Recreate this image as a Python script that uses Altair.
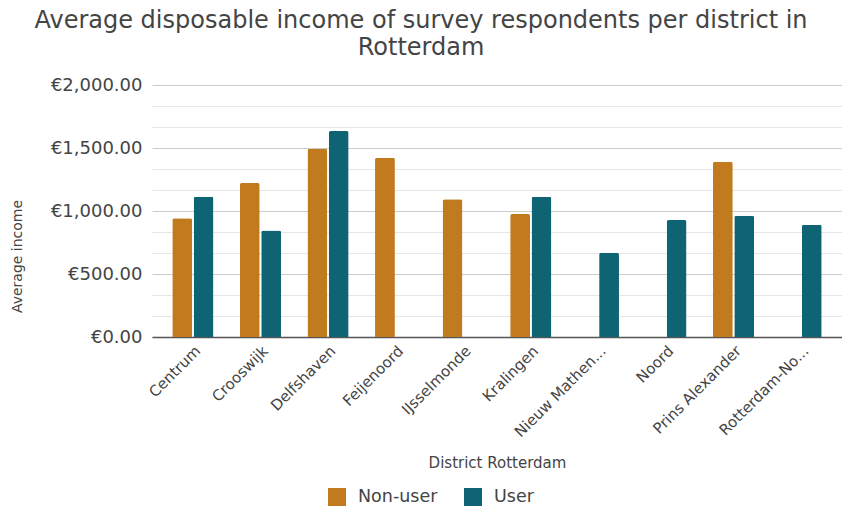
import altair as alt
import pandas as pd

districts = ["Centrum", "Crooswijk", "Delfshaven", "Feijenoord", "IJsselmonde",
             "Kralingen", "Nieuw Mathen...", "Noord", "Prins Alexander", "Rotterdam-No..."]
non_user = [942, 1222, 1495, 1423, 1093, 976, None, None, 1390, None]
user = [1114, 846, 1634, None, None, 1114, 668, 928, 963, 891]
groups = ["Non-user", "User"]
colors = ["#C17A1E", "#0F6473"]

rows = []
for d, nu, u in zip(districts, non_user, user):
    if nu is not None:
        rows.append({"district": d, "group": "Non-user", "income": nu})
    if u is not None:
        rows.append({"district": d, "group": "User", "income": u})
df = pd.DataFrame(rows)

grid_vals = [i * 500 / 3 for i in range(13)]
major = "abs(datum.value - 500 * round(datum.value / 500)) < 0.01"
FONT = "DejaVu Sans"

chart = alt.Chart(df).mark_bar(
    cornerRadiusTopLeft=2, cornerRadiusTopRight=2
).encode(
    x=alt.X("district:N", sort=districts,
            scale=alt.Scale(paddingInner=0.39, paddingOuter=0.3),
            axis=alt.Axis(title="District Rotterdam", labelAngle=-45,
                          labelFontSize=15, labelColor="#444", titleFontSize=15,
                          titleColor="#444", titleFontWeight="normal",
                          ticks=False, domainColor="#555", domainWidth=1.5,
                          labelPadding=6, titlePadding=16, grid=False)),
    xOffset=alt.XOffset("group:N", sort=groups,
                        scale=alt.Scale(paddingInner=0.07)),
    y=alt.Y("income:Q", scale=alt.Scale(domain=[0, 2000], nice=False),
            axis=alt.Axis(title="Average income", values=grid_vals,
                          labelExpr=f"({major}) ? '€' + format(datum.value, ',.2f') : ''",
                          labelFontSize=18, labelColor="#444", labelPadding=10,
                          ticks=False, domain=False,
                          gridColor={"condition": {"test": major, "value": "#cccccc"},
                                     "value": "#e6e6e6"},
                          titleFontSize=14, titleColor="#444", titleFontWeight="normal",
                          titleX=-128, titleY=171)),
    color=alt.Color("group:N", sort=groups,
                    scale=alt.Scale(domain=groups, range=colors),
                    legend=alt.Legend(title=None, orient="none", direction="horizontal",
                                      legendX=176, legendY=403,
                                      symbolType="square", symbolSize=324,
                                      symbolStrokeWidth=0,
                                      labelFontSize=17.5, labelColor="#444",
                                      columnPadding=26, labelOffset=12)),
).properties(
    width=690, height=252,
    title=alt.TitleParams(
        text=["Average disposable income of survey respondents per district in", "Rotterdam"],
        fontSize=24, font=FONT, color="#444", fontWeight="normal",
        anchor="middle", frame="group", dx=-76, offset=16, lineHeight=27),
    autosize=alt.AutoSizeParams(type="none"),
    padding={"left": 152, "top": 85, "right": 0, "bottom": 169},
).configure(font=FONT).configure_view(stroke=None)

chart.save("out.html", embed_options={"renderer": "svg", "actions": False})
